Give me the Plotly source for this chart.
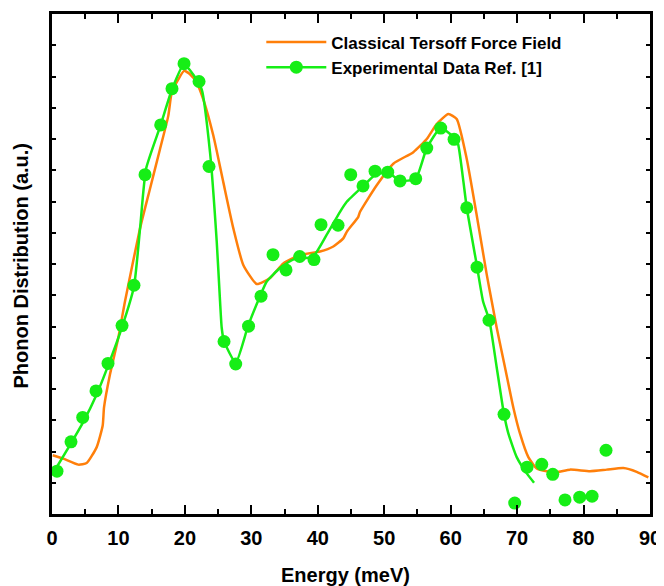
import plotly.graph_objects as go

# Classical Tersoff force field curve (meV, a.u.)
tersoff_x = [0.11, 1.70, 3.96, 5.22, 6.73, 7.63, 7.83, 8.73, 9.98, 10.99, 13.25, 14.75, 16.26,
             17.50, 18.02, 19.01, 19.87, 20.77, 21.78, 22.77, 24.28, 25.78, 27.29, 28.79, 30.81,
             32.81, 34.81, 37.33, 40.34, 42.34, 43.84, 44.36, 46.10, 46.36, 48.87, 51.37, 54.38,
             56.40, 57.90, 59.65, 60.91, 62.42, 63.92, 65.43, 66.18, 66.93, 68.18, 69.43, 70.44,
             71.69, 72.95, 74.46, 75.96, 77.97, 80.98, 83.49, 85.99, 88.00, 89.75]
tersoff_y = [1.88, 1.77, 1.58, 1.63, 2.14, 2.83, 3.41, 4.47, 5.64, 6.81, 9.14, 10.41, 11.68,
             12.74, 13.49, 13.91, 14.18, 14.07, 13.80, 13.27, 12.11, 10.62, 9.14, 7.97, 7.36,
             7.55, 8.02, 8.29, 8.40, 8.56, 8.82, 9.03, 9.51, 9.67, 10.52, 11.21, 11.58,
             12.00, 12.48, 12.80, 12.64, 11.36, 9.56, 7.66, 6.81, 5.96, 4.69, 3.41, 2.57,
             1.82, 1.46, 1.37, 1.34, 1.42, 1.37, 1.42, 1.47, 1.35, 1.17]

# Experimental data line (smoothed)
exp_line_x = [0.15, 2.86, 4.67, 6.77, 8.43, 10.54, 12.34, 13.25, 14.15, 16.36, 18.06, 19.87,
              21.22, 22.53, 23.78, 24.79, 25.29, 25.54, 25.89, 27.65, 29.50, 31.31, 32.32,
              34.32, 36.27, 39.28, 41.35, 43.35, 44.36, 46.81, 48.66, 50.53, 52.38, 54.74,
              56.40, 58.50, 60.51, 61.11, 61.86, 62.42, 63.92, 64.87, 65.82, 66.93, 68.03,
              68.68, 69.94, 71.45, 72.55]
exp_line_y = [1.30, 2.26, 2.93, 3.85, 4.74, 5.98, 7.28, 9.13, 11.04, 12.45, 13.59, 14.39,
              14.07, 13.59, 11.58, 8.72, 6.81, 5.96, 5.53, 4.84, 6.01, 6.97, 7.44,
              7.87, 8.14, 8.24, 8.94, 9.67, 9.99, 10.49, 10.85, 10.94, 10.66, 10.73,
              11.71, 12.35, 12.05, 11.84, 10.73, 9.80, 7.98, 6.81, 6.20, 4.69, 3.19,
              2.58, 1.82, 1.30, 1.00]

# Experimental data points
exp_x = [0.75, 2.86, 4.62, 6.62, 8.43, 10.54, 12.34, 14.00, 16.36, 18.06, 19.87, 22.13,
         23.63, 25.89, 27.65, 29.58, 31.46, 33.26, 35.22, 37.28, 39.43, 40.49, 43.05, 44.96,
         46.81, 48.62, 50.53, 52.38, 54.74, 56.40, 58.50, 60.51, 62.42, 63.97, 65.77, 68.03,
         69.64, 71.49, 73.71, 75.36, 77.21, 79.42, 81.28, 83.38]
exp_y = [1.37, 2.31, 3.09, 3.94, 4.82, 6.03, 7.32, 10.86, 12.45, 13.61, 14.41, 13.84,
         11.12, 5.52, 4.80, 6.01, 6.97, 8.30, 7.81, 8.24, 8.14, 9.26, 9.24, 10.86,
         10.50, 10.97, 10.94, 10.66, 10.73, 11.71, 12.35, 11.99, 9.80, 7.90, 6.20, 3.19,
         0.35, 1.50, 1.59, 1.27, 0.45, 0.54, 0.57, 2.04]

ORANGE = '#FF7F0A'
GREEN = '#16EE16'
FONT = 'Liberation Sans'

fig = go.Figure()
fig.add_trace(go.Scatter(x=tersoff_x, y=tersoff_y, mode='lines',
                         line=dict(color=ORANGE, width=2.5, shape='spline', smoothing=0.5),
                         name='Classical Tersoff Force Field'))
fig.add_trace(go.Scatter(x=exp_line_x, y=exp_line_y, mode='lines',
                         line=dict(color=GREEN, width=2.5, shape='spline', smoothing=0.5),
                         showlegend=False, hoverinfo='skip'))
fig.add_trace(go.Scatter(x=exp_x, y=exp_y, mode='markers',
                         marker=dict(color=GREEN, size=13),
                         showlegend=False))
fig.add_trace(go.Scatter(x=[None], y=[None], mode='lines+markers',
                         line=dict(color=GREEN, width=2.5),
                         marker=dict(color=GREEN, size=13),
                         name='Experimental Data Ref. [1]'))

axis_common = dict(showline=True, linecolor='black', linewidth=3, mirror='ticks',
                   ticks='inside', tickcolor='black', showgrid=False, zeroline=False)

fig.update_xaxes(range=[0, 90], dtick=10, tick0=0, ticklen=9, tickwidth=2,
                 minor=dict(dtick=5, ticks='inside', ticklen=5, tickwidth=2, tickcolor='black'),
                 tickfont=dict(family=FONT, size=20, color='black', weight='bold'),
                 ticklabelstandoff=4,
                 **axis_common)
fig.update_yaxes(range=[0, 16], dtick=1, tick0=0, ticklen=4, tickwidth=1.5,
                 showticklabels=False, **axis_common)

fig.update_layout(
    width=656, height=578,
    margin=dict(l=44, r=14, t=3, b=72),
    plot_bgcolor='white', paper_bgcolor='white',
    font=dict(family=FONT, color='black'),
    legend=dict(x=0.35, y=0.979, xanchor='left', yanchor='top',
                bgcolor='rgba(0,0,0,0)', itemwidth=60,
                font=dict(family=FONT, size=17, color='black', weight='bold')),
    annotations=[
        dict(text='Energy (meV)', xref='paper', yref='paper', x=0.49, y=-0.121,
             xanchor='center', yanchor='middle', showarrow=False,
             font=dict(family=FONT, size=20, color='black', weight='bold')),
        dict(text='Phonon Distribution (a.u.)', xref='paper', yref='paper', x=-0.0535, y=0.497,
             xanchor='center', yanchor='middle', showarrow=False, textangle=-90,
             font=dict(family=FONT, size=20, color='black', weight='bold')),
    ],
)

fig.write_html('out.html')
